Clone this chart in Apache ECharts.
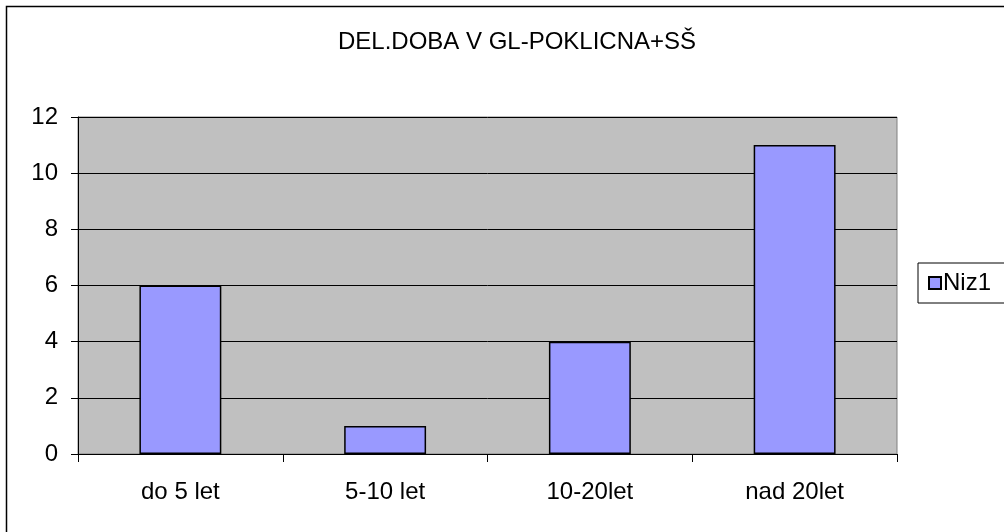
<!DOCTYPE html>
<html>
<head>
<meta charset="utf-8">
<script src="https://cdn.jsdelivr.net/npm/echarts@6/dist/echarts.min.js"></script>
<style>
	html, body { margin: 0; padding: 0; background: #fff; }
	#chart { width: 1004px; height: 532px; }
</style>
</head>
<body>
<div id="chart"></div>
<script>
"use strict";

const title = "DEL.DOBA V GL-POKLICNA+SŠ";
const categories = ["do 5 let", "5-10 let", "10-20let", "nad 20let"];
const seriesName = "Niz1";
const values = [6, 1, 4, 11];

const font = "'Liberation Sans', Arial, sans-serif";

const chart = echarts.init(document.getElementById("chart"));

chart.setOption({
	animation: false,
	backgroundColor: "#fff",
	textStyle: { fontFamily: font },
	title: {
		text: title,
		left: 512,
		textAlign: "center",
		top: 25,
		textStyle: { fontFamily: font, fontSize: 24, fontWeight: "normal", color: "#000" }
	},
	// outer frame of the chart
	graphic: [{
		type: "rect",
		shape: { x: 6.5, y: 6.5, width: 1020, height: 540 },
		style: { fill: null, stroke: "#000", lineWidth: 1.5 },
		silent: true
	}],
	legend: {
		left: 918,
		top: 263,
		orient: "vertical",
		padding: [8, 30, 8, 10],
		borderColor: "#000",
		borderWidth: 1,
		itemWidth: 12,
		itemHeight: 12,
		icon: "rect",
		textStyle: { fontFamily: font, fontSize: 24, color: "#000", padding: [0, 0, 0, -3] },
		data: [seriesName]
	},
	grid: {
		left: 78,
		right: 107,
		top: 117,
		bottom: 78,
		show: true,
		backgroundColor: "#C0C0C0",
		borderColor: "#808080",
		borderWidth: 1
	},
	xAxis: {
		type: "category",
		data: categories,
		axisLine: { lineStyle: { color: "#000", width: 1 } },
		axisTick: { show: true, length: 8, lineStyle: { color: "#000" } },
		axisLabel: { fontFamily: font, fontSize: 24, color: "#000", margin: 26 }
	},
	yAxis: {
		type: "value",
		min: 0,
		max: 12,
		interval: 2,
		axisLine: { show: true, lineStyle: { color: "#000", width: 1 } },
		axisTick: { show: true, length: 7, lineStyle: { color: "#000" } },
		axisLabel: { fontFamily: font, fontSize: 24, color: "#000", margin: 20 },
		splitLine: { show: true, lineStyle: { color: "#000", width: 1 } }
	},
	series: [{
		name: seriesName,
		type: "bar",
		data: values,
		barWidth: "40%",
		itemStyle: { color: "#9999FF", borderColor: "#000", borderWidth: 1.5 }
	}]
});
</script>
</body>
</html>
